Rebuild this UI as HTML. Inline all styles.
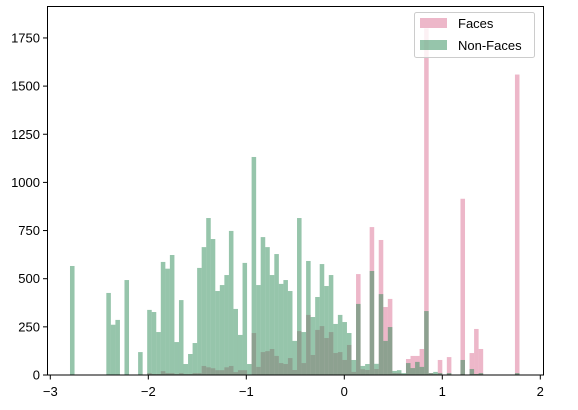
<!DOCTYPE html>
<html><head><meta charset="utf-8"><style>
html,body{margin:0;padding:0;background:#fff;width:578px;height:410px;overflow:hidden}
svg{display:block;font-family:"Liberation Sans","DejaVu Sans",sans-serif}
</style></head><body>
<svg id="chart" width="578" height="410" viewBox="0 0 578 410" xmlns="http://www.w3.org/2000/svg">
<g id="bars-faces"></g>
<g id="bars-nonfaces"></g>
<rect x="47.5" y="6.5" width="496" height="368.5" fill="none" stroke="#000" stroke-width="1"/>
<g id="xaxis"></g>
<g id="yaxis"></g>
<g>
<rect x="414.5" y="12.5" width="120" height="45" rx="2" fill="#fff" fill-opacity="0.8" stroke="#ccc"/>
<g>
<rect x="420" y="18" width="27" height="10" fill="#db7093" fill-opacity="0.5"/>
<text x="458" y="28" font-size="13" fill="#000">Faces</text></g>
<g>
<rect x="420" y="40" width="27" height="10" fill="#2e8b57" fill-opacity="0.5"/>
<text x="458" y="50" font-size="13" fill="#000">Non-Faces</text></g>
</g>
</svg>
<script>
const binStart = -2.799;
const binWidth = 0.04633;
const facesCounts = [0,0,0,0,0,0,0,0,0,0,0,0,0,0,0,0,0,10,5,5,20,10,10,5,10,5,5,10,10,47,40,35,25,25,40,47,15,25,25,0,218,42,119,124,135,99,62,57,88,26,228,62,312,104,234,254,192,223,114,119,78,156,16,524,30,26,768,31,701,353,395,10,10,5,83,99,99,135,1800,10,5,78,0,93,0,0,915,0,114,239,135,0,0,0,0,0,0,0,1560];
const nonFacesCounts = [566,0,0,0,0,0,0,0,426,261,286,0,493,0,0,119,0,338,327,223,587,552,623,171,389,57,109,166,556,664,815,706,436,467,519,748,343,208,582,57,1132,467,716,664,519,628,473,493,436,177,815,223,592,301,405,576,462,519,265,312,275,218,78,369,47,57,540,58,420,177,249,21,25,10,62,36,68,42,332,10,16,10,0,10,0,0,78,0,31,5,10,0,0,0,0,0,0,0,10];
const xTicks = [-3,-2,-1,0,1,2];
const yTicks = [0,250,500,750,1000,1250,1500,1750];

const NS = "http://www.w3.org/2000/svg";
const X0 = 344.3, XS = 98.0, Y0 = 375, YS = 0.1926;
function xPos(v){ return X0 + v*XS; }
function yPos(v){ return Y0 - v*YS; }

function drawBars(gid, counts, color, name){
  const g = document.getElementById(gid);
  counts.forEach((c,i)=>{
    if(c<=0) return;
    const x1 = xPos(binStart + i*binWidth), x2 = xPos(binStart + (i+1)*binWidth);
    const r = document.createElementNS(NS,"rect");
    r.setAttribute("x", x1); r.setAttribute("width", x2-x1);
    r.setAttribute("y", yPos(c)); r.setAttribute("height", Y0 - yPos(c));
    r.setAttribute("fill", color); r.setAttribute("fill-opacity", "0.5");
    
    
    g.appendChild(r);
  });
}
drawBars("bars-faces", facesCounts, "#db7093", "faces");
drawBars("bars-nonfaces", nonFacesCounts, "#2e8b57", "non-faces");

const xa = document.getElementById("xaxis");
xTicks.forEach(t=>{
  const x = xPos(t);
  const l = document.createElementNS(NS,"line");
  l.setAttribute("x1",x);l.setAttribute("x2",x);l.setAttribute("y1",375);l.setAttribute("y2",379.5);
  l.setAttribute("stroke","#000");
  
  
  xa.appendChild(l);
  const tx = document.createElementNS(NS,"text");
  tx.setAttribute("x",x);tx.setAttribute("y",396);tx.setAttribute("text-anchor","middle");tx.setAttribute("font-size","13");
  tx.textContent = t<0 ? "\u2212"+(-t) : String(t);
  
  
  xa.appendChild(tx);
});
const ya = document.getElementById("yaxis");
yTicks.forEach(t=>{
  const y = yPos(t);
  const l = document.createElementNS(NS,"line");
  l.setAttribute("x1",43);l.setAttribute("x2",47.5);l.setAttribute("y1",y);l.setAttribute("y2",y);
  l.setAttribute("stroke","#000");
  
  
  ya.appendChild(l);
  const tx = document.createElementNS(NS,"text");
  tx.setAttribute("x",40);tx.setAttribute("y",y+4.5);tx.setAttribute("text-anchor","end");tx.setAttribute("font-size","13");
  tx.textContent = String(t);
  
  
  ya.appendChild(tx);
});
</script>
</body></html>
